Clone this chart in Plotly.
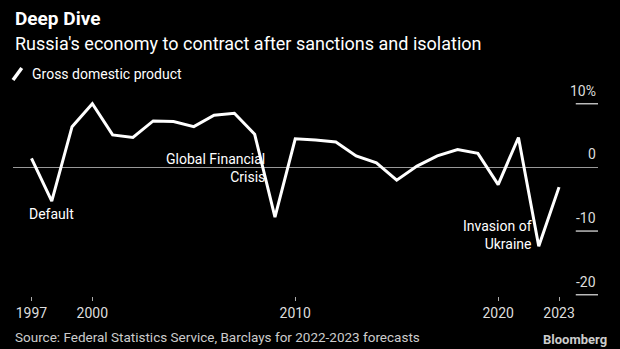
import plotly.graph_objects as go

years = list(range(1997, 2024))
gdp = [1.4, -5.3, 6.4, 10.0, 5.1, 4.7, 7.3, 7.2, 6.4, 8.2, 8.5, 5.2, -7.8,
       4.5, 4.3, 4.0, 1.8, 0.7, -2.0, 0.2, 1.8, 2.8, 2.2, -2.7, 4.7, -12.4, -3.1]
x_ticks = [1997, 2000, 2010, 2020, 2023]
y_ticks = [10, 0, -10, -20]
y_tick_text = ["10%", "0", "-10", "-20"]

FONT = "Roboto"
fig = go.Figure()
fig.add_trace(go.Scatter(x=years, y=gdp, mode="lines",
                         line=dict(color="white", width=3), hoverinfo="skip"))

W, H = 620, 349
ml, mr, mt, mb = 13, 22, 91, 53
fig.update_layout(
    width=W, height=H, paper_bgcolor="black", plot_bgcolor="black",
    margin=dict(l=ml, r=mr, t=mt, b=mb), showlegend=False,
    font=dict(family=FONT, color="white"),
    xaxis=dict(range=[1996.09, 2024.92], tickvals=x_ticks, showgrid=False,
               zeroline=False, ticks="outside", ticklen=4, tickcolor="#aaaaaa",
               tickfont=dict(size=14, color="#dddddd"), showline=False, fixedrange=True),
    yaxis=dict(range=[-20.2, 12], showgrid=False, zeroline=True, zerolinecolor="#999999",
               zerolinewidth=1, showticklabels=False, fixedrange=True),
)
# y tick marks and labels on the right
for v, t in zip(y_ticks, y_tick_text):
    if v != 0:
        fig.add_shape(type="line", xref="paper", yref="y", x0=0.962, x1=1.0, y0=v, y1=v,
                      line=dict(color="#bbbbbb", width=1.5))
    fig.add_annotation(xref="paper", yref="y", x=1.0, y=v, text=t, showarrow=False,
                       xanchor="right", yanchor="bottom", yshift=3,
                       font=dict(size=14, color="#dddddd"))

# event annotations
fig.add_annotation(xref="x", yref="y", x=1998, y=gdp[1], text="Default", showarrow=False,
                   xanchor="center", yanchor="top", yshift=-3, font=dict(size=14))
fig.add_annotation(xref="x", yref="y", x=2008.6, y=0, text="Global Financial<br>Crisis",
                   showarrow=False, xanchor="right", yanchor="middle", align="right",
                   yshift=-1, font=dict(size=14))
fig.add_annotation(xref="x", yref="y", x=2021.75, y=gdp[25], text="Invasion of<br>Ukraine",
                   showarrow=False, xanchor="right", yanchor="bottom", align="right",
                   yshift=-8, font=dict(size=14))

# titles
fig.add_annotation(xref="paper", yref="paper", x=0, y=1, yshift=mt - 5,
                   text="<b>Deep Dive</b>", showarrow=False, xanchor="left", yanchor="top",
                   font=dict(size=19, color="white"))
fig.add_annotation(xref="paper", yref="paper", x=0, y=1, yshift=mt - 31,
                   text="Russia's economy to contract after sanctions and isolation",
                   showarrow=False, xanchor="left", yanchor="top", font=dict(size=18, color="white"))
fig.add_shape(type="line", xref="paper", yref="paper", x0=0.0, x1=0.015,
              y0=1 + (mt - 80) / (H - mt - mb), y1=1 + (mt - 68) / (H - mt - mb),
              line=dict(color="white", width=3.5))
fig.add_annotation(xref="paper", yref="paper", x=0, xshift=17, y=1, yshift=mt - 64,
                   text="Gross domestic product", showarrow=False, xanchor="left",
                   yanchor="top", font=dict(size=14, color="white"))
fig.add_annotation(xref="paper", yref="paper", x=0, y=0, yshift=-(mb - 2),
                   text="Source: Federal Statistics Service, Barclays for 2022-2023 forecasts",
                   showarrow=False, xanchor="left", yanchor="bottom", font=dict(size=13.5, color="#cccccc"))
fig.add_annotation(xref="paper", yref="paper", x=1, xshift=11, y=0, yshift=-(mb - 0),
                   text="<b>Bloomberg</b>", showarrow=False, xanchor="right",
                   yanchor="bottom", font=dict(size=13, color="#cccccc"))

fig.write_html("out.html", include_plotlyjs=True, config={"displayModeBar": False})
